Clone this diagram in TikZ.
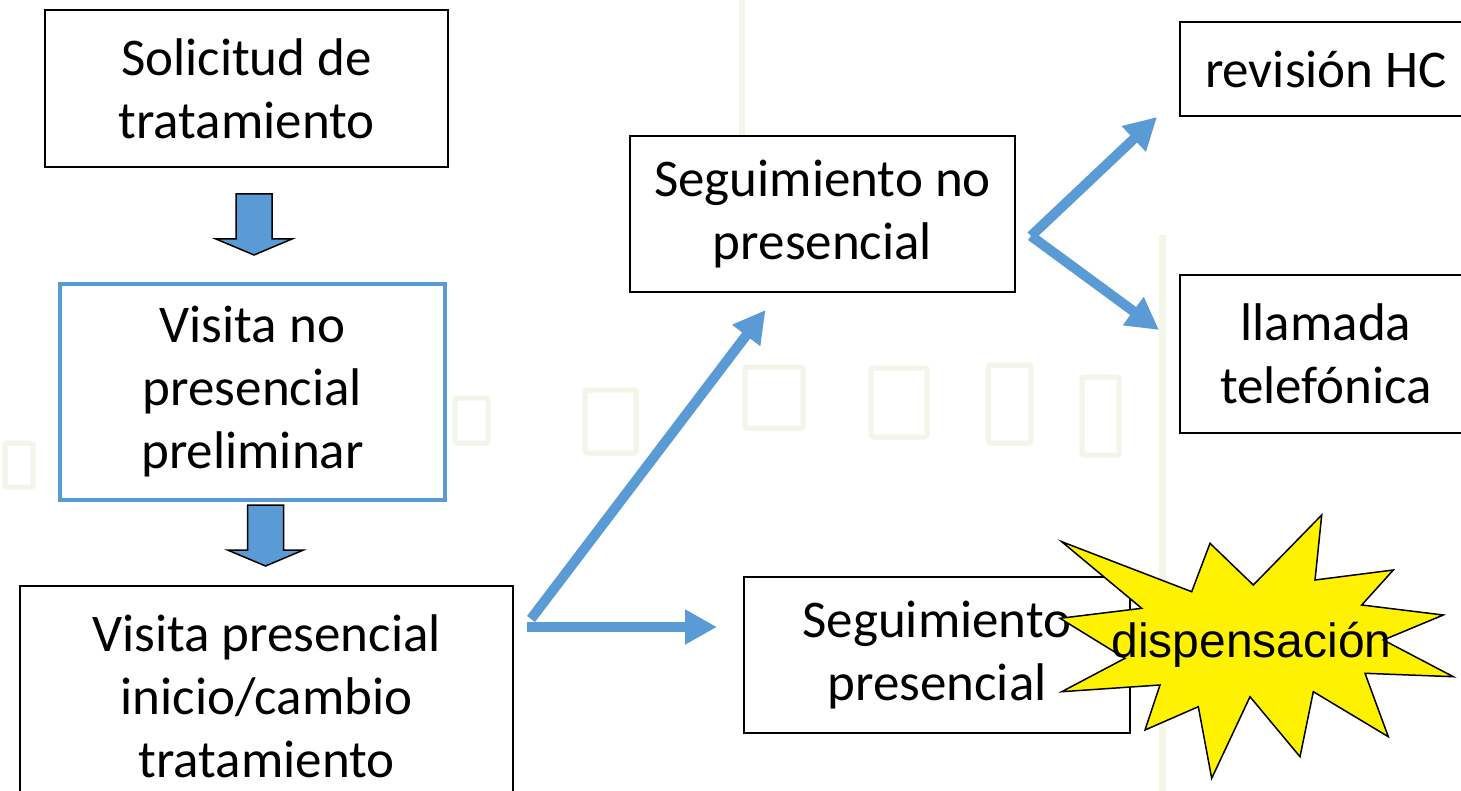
\documentclass[tikz,border=0pt]{standalone}
\usepackage{fontspec}
\setmainfont{Carlito}
\newfontfamily\arialfont{Liberation Sans}
\usetikzlibrary{arrows.meta,calc}
\definecolor{bl}{HTML}{5B9BD5}
\definecolor{wm}{rgb}{0.95,0.96,0.91}
\newcommand{\bigfont}{\fontsize{53}{63}\selectfont}
% block arrow hanging from a coordinate (top centre)
\newcommand{\blkarrow}[1]{\draw[blk] ($(#1)+(-18,0)$) -- ++(0,45) -- ++(-20,0)
  -- ++(38,16) -- ++(38,-16) -- ++(-20,0) -- ++(0,-45) -- cycle;}
\tikzset{bx/.style={draw=black, line width=2pt, fill=white, align=center,
            inner sep=0pt, font=\bigfont},
         bxb/.style={bx, draw=bl, line width=4pt},
         flw/.style={draw=bl, line width=10pt, -{Triangle[length=32pt,width=33pt]}},
         blk/.style={fill=bl, draw=black, line width=1.5pt},
         burst/.style={fill=yellow, draw=black, line width=1.5pt, line join=miter},
         wmark/.style={draw=wm, line width=5pt, rounded corners=2pt}}

\begin{document}
\begin{tikzpicture}[x=1pt, y=-1pt]
\useasboundingbox (0,0) rectangle (1461,791);
\fill[white] (0,0) rectangle (1461,791);
% faint building in the background
\foreach \a/\b/\c/\d in {5/443/33/487, 455/398/488/443, 585/390/636/453,
    745/367/803/428, 871/368/927/437, 988/365/1031/443, 1082/377/1119/455}
  \draw[wmark] (\a,\b) rectangle (\c,\d);
\draw[wmark, line width=7pt] (1162,235) -- (1162,791);
\draw[wmark, line width=6pt] (742,0) -- (742,135);

% boxes
\node[bx, minimum width=403pt, minimum height=157pt] (sol) at (246.5,88.5)
  {Solicitud de\\tratamiento};
\node[bxb, minimum width=385pt, minimum height=216pt] (vnp) at (252.5,392)
  {Visita no\\presencial\\preliminar};
\node[bx, minimum width=493pt, minimum height=220pt] (vp) at (266.5,696)
  {Visita presencial\\inicio/cambio\\tratamiento};
\node[bx, minimum width=385pt, minimum height=156pt] (snp) at (822.5,214)
  {Seguimiento no\\presencial};
\node[bx, minimum width=292pt, minimum height=94pt] (rhc) at (1326,69)
  {revisión HC};
\node[bx, minimum width=292pt, minimum height=158pt] (llt) at (1326,354)
  {llamada\\telefónica};
\node[bx, minimum width=386pt, minimum height=156pt] (sp) at (937,655)
  {Seguimiento\\presencial};

% block arrows
\coordinate (ar1) at ($(sol.south)+(7.5,26)$);
\coordinate (ar2) at ($(vnp.south)+(13,3)$);
\blkarrow{ar1}
\blkarrow{ar2}

% flow arrows
\coordinate (fork1) at (531,619);
\coordinate (fork2) at (527,627);
\coordinate (split) at (1031,236);
\draw[flw] (fork1) -- ($(snp.south)+(-57,17)$);
\draw[flw] (fork2) -- ($(sp.west |- fork2)+(-26,0)$);
\draw[flw] (split) -- ($(rhc.south west)+(-22,0)$);
\draw[flw] (split) -- ($(llt.west)+(-20,-24)$);

% explosion
\draw[burst] (1061.7,541.7) -- (1191.7,591.7) -- (1210,543.3) -- (1253.3,585)
  -- (1321.7,515) -- (1315,580) -- (1393.3,570) -- (1361.7,605) -- (1443.3,615)
  -- (1383.3,640) -- (1453.3,676.7) -- (1365,673.3) -- (1388.3,736.7)
  -- (1313.3,691.7) -- (1300,756.7) -- (1250,696.7) -- (1211.7,778.3)
  -- (1198.3,706.7) -- (1145,730) -- (1160,685) -- (1061.7,691.7)
  -- (1125,658.3) -- (1060,618.3) -- (1141.7,608.3) -- cycle;
\node[font=\arialfont\fontsize{48}{56}\selectfont, anchor=base, inner sep=0pt]
  (disp) at (1251.5,657) {dispensación};
\end{tikzpicture}
\end{document}
